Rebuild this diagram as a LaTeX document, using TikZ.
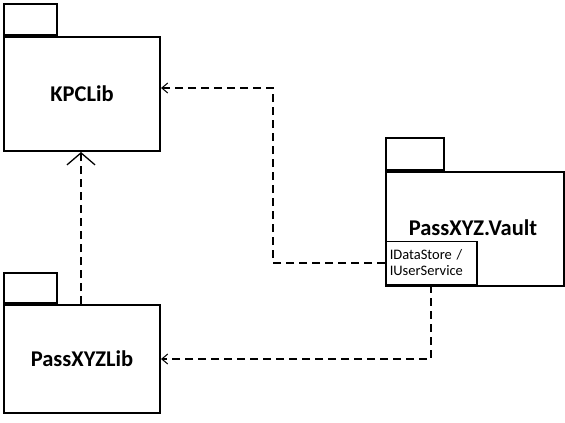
\documentclass[tikz,border=0pt]{standalone}
\usepackage{fontspec}
\setmainfont{Carlito}
\usetikzlibrary{arrows.meta}
\begin{document}
\begin{tikzpicture}[x=1pt,y=-1pt,
  pkgbody/.style={draw=black,line width=2pt,fill=white,inner sep=0pt,anchor=north west,font=\fontsize{22.5}{26}\selectfont\bfseries},
  pkgtab/.style={draw=black,line width=2pt,fill=white,inner sep=0pt,anchor=south west},
  ifbox/.style={draw=black,line width=1.5pt,fill=white,inner sep=0pt,anchor=south west,font=\fontsize{14.5}{17}\selectfont,align=left},
  dep/.style={dashed,dash pattern=on 8pt off 5pt,line width=1.3pt,-{Straight Barb[length=6pt,width=10pt,line width=1pt]}},
  gen/.style={dashed,dash pattern=on 8pt off 5pt,line width=1.3pt,-{Straight Barb[length=12pt,width=28pt,line width=1.3pt]}}
]
\useasboundingbox (0,0) rectangle (565,423);
% KPCLib
\node[pkgtab,minimum width=53pt,minimum height=31pt] (kt) at (3,36) {};
\node[pkgbody,minimum width=156pt,minimum height=114pt] (kpc) at (3,36) {KPCLib};
% PassXYZLib
\node[pkgtab,minimum width=53pt,minimum height=30pt] (pt) at (3,304) {};
\node[pkgbody,minimum width=156pt,minimum height=108pt] (pxl) at (3,304) {PassXYZLib};
% PassXYZ.Vault
\node[pkgtab,minimum width=58pt,minimum height=32pt] (vt) at (385,171) {};
\node[pkgbody,minimum width=178pt,minimum height=114pt] (vault) at (385,171) {};
\node[font=\fontsize{22.5}{26}\selectfont\bfseries] (vlabel) at (473,228) {PassXYZ.Vault};
\node[ifbox,minimum width=91pt,minimum height=43pt,text width=89pt] (iface) at (385,285) {\hspace*{3pt}IDataStore /\\[-1pt]\hspace*{3pt}IUserService};
% connectors
\coordinate (c1) at (273,263);
\coordinate (c2) at (273,88);
\draw[dep] (iface.west |- c1) -- (c1) -- (c2) -- (kpc.east |- c2);
\coordinate (c3) at (431,359);
\draw[dep] (iface.south -| c3) -- (c3) -- (pxl.east |- c3);
\coordinate (c4) at (81,304);
\draw[gen] (c4) -- (kpc.south -| c4);
\end{tikzpicture}
\end{document}
